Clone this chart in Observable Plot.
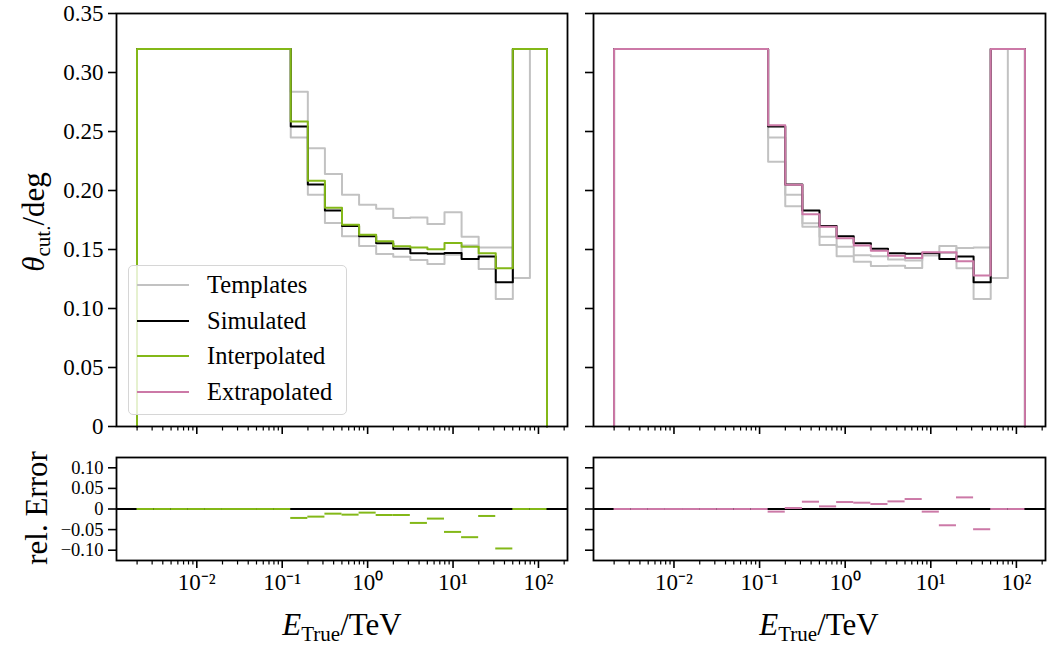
<!DOCTYPE html>
<html><head><meta charset="utf-8">
<script src="https://cdn.jsdelivr.net/npm/d3@7"></script>
<script src="https://cdn.jsdelivr.net/npm/@observablehq/plot@0.6"></script>
<style>
body{margin:0;background:#fff;}
#root{position:relative;width:1049px;height:648px;overflow:hidden;font-family:"Liberation Serif",serif;color:#000;}
.panel{position:absolute;}
.lbl{position:absolute;font-size:31px;white-space:nowrap;transform:translate(-50%,-50%);line-height:1;}
.rot{transform:translate(-50%,-50%) rotate(-90deg);}
.lbl sub{font-size:21px;vertical-align:-6px;line-height:1;}
#legend{position:absolute;left:128px;top:265px;width:217px;height:148px;border:1px solid #d6d6d6;border-radius:5px;background:rgba(255,255,255,0.8);}
.le{position:absolute;left:0;height:30px;width:216px;}
.le span.sw{position:absolute;left:8px;top:14px;width:52px;height:0;border-top:2px solid;}
.le span.tx{position:absolute;left:78px;top:0;font-size:24.5px;line-height:30px;}
</style></head><body><div id="root"></div>
<script>
// ---------- data ----------
const logEdges = [-2.7,-2.5,-2.3,-2.1,-1.9,-1.7,-1.5,-1.3,-1.1,-0.9,-0.7,-0.5,-0.3,-0.1,0.1,0.3,0.5,0.7,0.9,1.1,1.3,1.5,1.7,1.9,2.1];
const simulated     = [0.32,0.32,0.32,0.32,0.32,0.32,0.32,0.32,0.32,0.2543,0.2050,0.1830,0.1700,0.1612,0.1552,0.1507,0.1468,0.1465,0.1470,0.1420,0.1440,0.1222,0.32,0.32];
const interpolated  = [0.32,0.32,0.32,0.32,0.32,0.32,0.32,0.32,0.32,0.2585,0.2083,0.1854,0.1710,0.1626,0.1569,0.1527,0.1518,0.1502,0.1555,0.1524,0.1468,0.1341,0.32,0.32];
const extrapolated  = [0.32,0.32,0.32,0.32,0.32,0.32,0.32,0.32,0.32,0.2554,0.2049,0.1798,0.1693,0.1595,0.1533,0.1490,0.1448,0.1428,0.1476,0.1476,0.1400,0.1279,0.32,0.32];
const templateL1    = [0.32,0.32,0.32,0.32,0.32,0.32,0.32,0.32,0.32,0.2837,0.2357,0.2139,0.1964,0.1880,0.1846,0.1767,0.1772,0.1716,0.1815,0.1609,0.1518,0.1518,0.1259,0.32];
const templateL2    = [0.32,0.32,0.32,0.32,0.32,0.32,0.32,0.32,0.32,0.2450,0.1964,0.1725,0.1612,0.1530,0.1462,0.1439,0.1411,0.1377,0.1455,0.1533,0.1335,0.1081,0.32,0.32];
const templateR1    = [0.32,0.32,0.32,0.32,0.32,0.32,0.32,0.32,0.32,0.2450,0.1964,0.1722,0.1609,0.1524,0.1451,0.1442,0.1415,0.1406,0.1462,0.1530,0.1341,0.1081,0.32,0.32];
const templateR2    = [0.32,0.32,0.32,0.32,0.32,0.32,0.32,0.32,0.32,0.2244,0.1866,0.1693,0.1538,0.1442,0.1397,0.1361,0.1363,0.1344,0.1450,0.1470,0.1513,0.1518,0.1259,0.32];
const relErrInterp  = [0,0,0,0,0,0,0,0,0,-0.0217,-0.0185,-0.0113,-0.0137,-0.0088,-0.0145,-0.0145,-0.0338,-0.0233,-0.0556,-0.0684,-0.0169,-0.0958,0,0];
const relErrExtrap  = [0,0,0,0,0,0,0,0,0,-0.0064,0.0024,0.0177,0.0064,0.0169,0.0153,0.0121,0.0185,0.0242,-0.0064,-0.0395,0.0282,-0.0491,0,0];

const yTicksTop = [0,0.05,0.10,0.15,0.20,0.25,0.30,0.35];
const yTickLabelsTop = ["0","0.05","0.10","0.15","0.20","0.25","0.30","0.35"];
const yTicksBottom = [-0.10,-0.05,0,0.05,0.10];
const yTickLabelsBottom = ["\u22120.10","\u22120.05","0","0.05","0.10"];
const xMajorTicks = [1e-2,1e-1,1,10,100];
const xMajorLabels = ["10\u207B\u00B2","10\u207B\u00B9","10\u2070","10\u00B9","10\u00B2"];
const legendLabels = ["Templates","Simulated","Interpolated","Extrapolated"];
const colTemplates = "#c2c2c2", colSimulated = "#000000", colInterp = "#83b818", colExtrap = "#cc79a7";

// ---------- helpers ----------
const xDomain = [Math.pow(10,-2.94), Math.pow(10,2.34)];
const xMinorTicks = [];
for (let k = -3; k <= 2; k++) for (let m = 2; m <= 9; m++) {
  const v = m * Math.pow(10, k);
  if (v > xDomain[0] && v < xDomain[1]) xMinorTicks.push(v);
}
const edges = logEdges.map(e => Math.pow(10, e));
function stairs(vals, key) {
  const pts = [{x: edges[0], y: 0, k: key}];
  vals.forEach((v, i) => pts.push({x: edges[i], y: v, k: key}));
  pts.push({x: edges[edges.length - 1], y: vals[vals.length - 1], k: key});
  pts.push({x: edges[edges.length - 1], y: 0, k: key});
  return pts;
}
function segs(vals) {
  return vals.map((v, i) => ({x1: edges[i], x2: edges[i + 1], y: v}));
}
const root = document.getElementById("root");
const FONT = "font-family:'Liberation Serif',serif;font-size:23px;background:transparent;overflow:visible;";

function panel(o) {
  const xLab = o.xLabels ? ((d) => xMajorLabels[xMajorTicks.indexOf(d)]) : (() => "");
  const yLab = o.yLabels ? ((d) => o.yLabelList[o.yTicks.indexOf(d)]) : (() => "");
  const svg = Plot.plot({
    width: o.width, height: o.height,
    marginLeft: o.ml, marginRight: o.mr, marginTop: o.mt, marginBottom: o.mb,
    style: FONT,
    x: {type: "log", domain: xDomain},
    y: {domain: o.yDomain},
    marks: [
      ...o.marks,
      Plot.frame({stroke: "#000", strokeWidth: 1.8}),
      Plot.axisX(xMajorTicks, {tickSize: 8, tickPadding: 5, tickFormat: xLab, label: null, strokeWidth: 1.6, stroke: "#000"}),
      Plot.axisX(xMinorTicks, {tickSize: 4.5, tickFormat: () => "", label: null, strokeWidth: 1.2, stroke: "#000"}),
      Plot.axisY(o.yTicks, {tickSize: 8, tickPadding: 5, tickFormat: yLab, label: null, strokeWidth: 1.6, stroke: "#000", fontSize: o.yFont})
    ]
  });
  svg.classList.add("panel");
  svg.style.left = o.left + "px";
  svg.style.top = o.top + "px";
  root.appendChild(svg);
}

function topMarks(templates, target, targetColor) {
  const m = [];
  templates.forEach((t, i) => m.push(Plot.line(stairs(t, "t" + i), {x: "x", y: "y", stroke: colTemplates, strokeWidth: 2, curve: "step-after"})));
  m.push(Plot.line(stairs(simulated, "sim"), {x: "x", y: "y", stroke: colSimulated, strokeWidth: 2, curve: "step-after"}));
  m.push(Plot.line(stairs(target, "tg"), {x: "x", y: "y", stroke: targetColor, strokeWidth: 2, curve: "step-after"}));
  return m;
}
function bottomMarks(rel, color) {
  return [
    Plot.ruleY([0], {stroke: "#000", strokeWidth: 1.8}),
    Plot.ruleY(segs(rel), {x1: "x1", x2: "x2", y: "y", stroke: color, strokeWidth: 2})
  ];
}

// top-left
panel({left: 0, top: 0, width: 580, height: 440, ml: 116, mr: 13, mt: 13, mb: 14, yFont: 23,
  yDomain: [0, 0.35], yTicks: yTicksTop, yLabelList: yTickLabelsTop, yLabels: true, xLabels: false,
  marks: topMarks([templateL1, templateL2], interpolated, colInterp)});
// top-right
panel({left: 580, top: 0, width: 469, height: 440, ml: 13, mr: 4, mt: 13, mb: 14, yFont: 23,
  yDomain: [0, 0.35], yTicks: yTicksTop, yLabelList: yTickLabelsTop, yLabels: false, xLabels: false,
  marks: topMarks([templateR1, templateR2], extrapolated, colExtrap)});
// bottom-left
panel({left: 0, top: 440, width: 580, height: 208, ml: 116, mr: 13, mt: 17, mb: 88, yFont: 18.5,
  yDomain: [-0.125, 0.125], yTicks: yTicksBottom, yLabelList: yTickLabelsBottom, yLabels: true, xLabels: true,
  marks: bottomMarks(relErrInterp, colInterp)});
// bottom-right
panel({left: 580, top: 440, width: 469, height: 208, ml: 13, mr: 4, mt: 17, mb: 88, yFont: 18.5,
  yDomain: [-0.125, 0.125], yTicks: yTicksBottom, yLabelList: yTickLabelsBottom, yLabels: false, xLabels: true,
  marks: bottomMarks(relErrExtrap, colExtrap)});

// axis labels
function addLabel(html, cx, cy, rot) {
  const d = document.createElement("div");
  d.className = "lbl" + (rot ? " rot" : "");
  d.style.left = cx + "px"; d.style.top = cy + "px";
  d.innerHTML = html;
  root.appendChild(d);
}
addLabel("<i>\u03B8</i><sub>cut.</sub>/deg", 36, 222, true);
addLabel("rel. Error", 36, 508, true);
addLabel("<i>E</i><sub>True</sub>/TeV", 342, 627, false);
addLabel("<i>E</i><sub>True</sub>/TeV", 819, 627, false);

// legend
const legendColors = [colTemplates, colSimulated, colInterp, colExtrap];
const lg = document.createElement("div");
lg.id = "legend";
legendLabels.forEach((t, i) => {
  const e = document.createElement("div");
  e.className = "le";
  e.style.top = (4 + i * 35.7) + "px";
  e.innerHTML = `<span class="sw" style="border-color:${legendColors[i]}"></span><span class="tx">${t}</span>`;
  lg.appendChild(e);
});
root.appendChild(lg);
</script></body></html>
